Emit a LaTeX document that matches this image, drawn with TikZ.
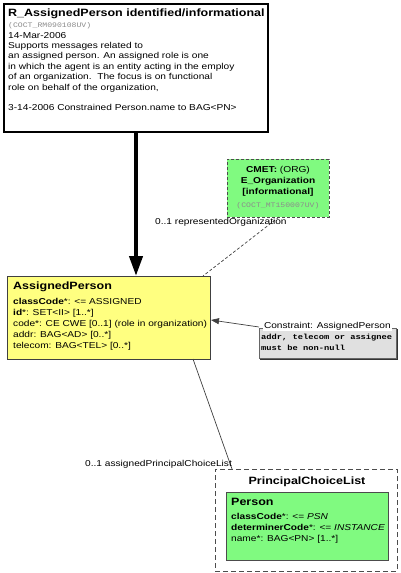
\documentclass[tikz,border=0pt]{standalone}
\usepackage{fontspec}
\setmainfont{Liberation Sans}[FakeStretch=1.18]
\setmonofont{Liberation Mono}[FakeStretch=1.18]
\usetikzlibrary{arrows.meta}
\definecolor{rimyellow}{RGB}{255,255,128}
\definecolor{cmetgreen}{RGB}{128,250,128}
\definecolor{notegray}{RGB}{224,224,224}
\begin{document}
\begin{tikzpicture}[x=1pt,y=-1pt,
  boxbase/.style={anchor=north west, inner sep=0pt, outer sep=0pt},
  rimbox/.style={boxbase, draw=black, line width=2pt, fill=white},
  classbox/.style={boxbase, draw=black!75, line width=0.8pt, fill=rimyellow},
  cmetbox/.style={boxbase, draw=black!70, line width=0.8pt, dash pattern=on 3pt off 2pt, fill=cmetgreen},
  choicebox/.style={boxbase, draw=black!70, line width=0.8pt, dash pattern=on 5pt off 3pt},
  personbox/.style={boxbase, draw=black!70, line width=0.8pt, fill=cmetgreen},
  notebox/.style={boxbase, draw=black!60, line width=0.7pt, fill=notegray},
  txt/.style={anchor=base west, inner sep=0pt, font=\fontsize{8.6}{10}\selectfont},
  ctxt/.style={anchor=base, inner sep=0pt, font=\fontsize{8.6}{10}\selectfont},
  ttl/.style={anchor=base west, inner sep=0pt, font=\fontsize{10.6}{12}\selectfont\bfseries},
  cttl/.style={anchor=base, inner sep=0pt, font=\fontsize{10.6}{12}\selectfont\bfseries},
  idcode/.style={anchor=base west, inner sep=0pt, font=\fontsize{6.9}{8}\selectfont\ttfamily, text=black!45},
  notecode/.style={anchor=base west, inner sep=0pt, font=\fontsize{7.4}{9}\selectfont\ttfamily\bfseries},
  conn/.style={draw=black!75, line width=0.7pt},
  dconn/.style={draw=black!75, line width=0.7pt, dash pattern=on 3pt off 2pt}
]
\useasboundingbox (0,0) rectangle (400,573);

% top RMIM box
\node[rimbox, minimum width=264pt, minimum height=128pt] (rim) at (4,4) {};
\node[ttl] (rimtitle) at (8,16) {R\_AssignedPerson identified/informational};
\node[idcode] (rimid) at (8,27) {(COCT\_RM090108UV)};
\node[txt] (r1) at (8,38) {14-Mar-2006};
\node[txt] (r2) at (8,48.4) {Supports messages related to};
\node[txt] (r3) at (8,58.8) {an assigned person. An assigned role is one};
\node[txt] (r4) at (8,69.2) {in which the agent is an entity acting in the employ};
\node[txt] (r5) at (8,79.6) {of an organization.\ \ The focus is on functional};
\node[txt] (r6) at (8,90) {role on behalf of the organization,};
\node[txt] (r7) at (8,110.7) {3-14-2006 Constrained Person.name to BAG<PN>};

% CMET box
\node[cmetbox, minimum width=102pt, minimum height=58pt] (cmet) at (227,159) {};
\node[ctxt] (c1) at (278,172) {\textbf{CMET:} (ORG)};
\node[ctxt, font=\fontsize{8.6}{10}\selectfont\bfseries] (c2) at (278,183.3) {E\_Organization};
\node[ctxt, font=\fontsize{8.6}{10}\selectfont\bfseries] (c3) at (278,194.3) {[informational]};
\node[ctxt, font=\fontsize{6.9}{8}\selectfont\ttfamily, text=black!45] (c4) at (278,207.5) {(COCT\_MT150007UV)};

% AssignedPerson class
\node[classbox, minimum width=203pt, minimum height=83pt] (ap) at (7,276) {};
\node[ttl] (aptitle) at (13,289.5) {AssignedPerson};
\node[txt] (a1) at (13,304.7) {\textbf{classCode}*: <= ASSIGNED};
\node[txt] (a2) at (13,315.7) {\textbf{id}*: SET<II> [1..*]};
\node[txt] (a3) at (13,326.7) {code*: CE CWE [0..1] (role in organization)};
\node[txt] (a4) at (13,337.7) {addr: BAG<AD> [0..*]};
\node[txt] (a5) at (13,348.7) {telecom: BAG<TEL> [0..*]};

% constraint note
\node[notebox, minimum width=137pt, minimum height=30pt] (note) at (259,328) {};
\draw[black!80, line width=1pt] ([xshift=1pt,yshift=-1pt]note.north east) -- ([xshift=1pt,yshift=-1pt]note.south east) -- ([xshift=1pt,yshift=-1pt]note.south west);
\node[txt, fill=white, inner sep=0.8pt] (notetitle) at (263,328) {Constraint: AssignedPerson};
\node[notecode] (n1) at (261,339.5) {addr, telecom or assignee};
\node[notecode] (n2) at (261,350.5) {must be non-null};

% PrincipalChoiceList
\node[choicebox, minimum width=182pt, minimum height=102pt] (pcl) at (215,469) {};
\node[cttl] (pcltitle) at (307,484) {PrincipalChoiceList};
\node[personbox, minimum width=162pt, minimum height=68pt] (person) at (226,492) {};
\node[ttl] (ptitle) at (231,505.7) {Person};
\node[txt] (p1) at (231,519) {\textbf{classCode}*: <= \textit{PSN}};
\node[txt] (p2) at (231,530.5) {\textbf{determinerCode}*: <= \textit{INSTANCE}};
\node[txt] (p3) at (231,541.5) {name*: BAG<PN> [1..*]};

% connectors
\draw[line width=4pt, -{Triangle[length=20pt,width=13pt]}] (rim.south) -- (rim.south |- ap.north);
\draw[dconn] ([xshift=1pt]cmet.south) -- ([xshift=-7pt]ap.north east);
\node[txt] (lblorg) at (155,224) {0..1 representedOrganization};
\draw[conn, -{Triangle[length=8pt,width=6pt]}] ([yshift=1pt]note.north west) -- ([xshift=1pt,yshift=-2.5pt]ap.east);
\draw[conn] ([xshift=-17pt]ap.south east) -- ([xshift=17pt]pcl.north west);
\node[txt] (lblpcl) at (85,466) {0..1 assignedPrincipalChoiceList};
\end{tikzpicture}
\end{document}
